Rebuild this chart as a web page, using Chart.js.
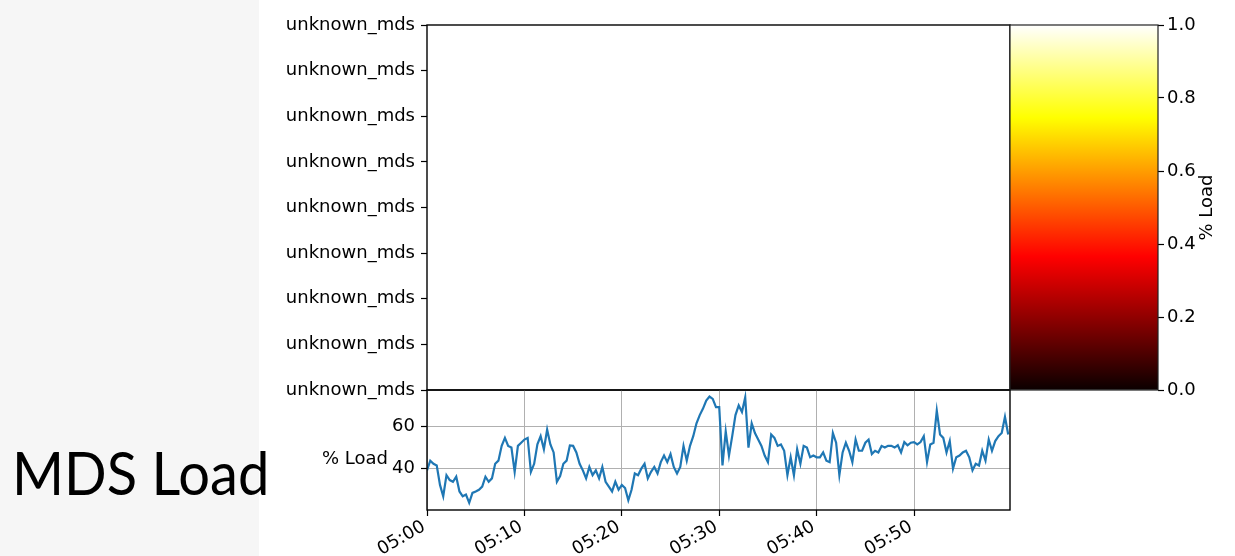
<!DOCTYPE html>
<html>
<head>
<meta charset="utf-8">
<title>MDS Load</title>
<script src="https://cdn.jsdelivr.net/npm/chart.js@4.4.0/dist/chart.umd.min.js"></script>
<style>
  html, body { margin: 0; padding: 0; background: #fff; }
  #page { position: relative; width: 1235px; height: 556px; overflow: hidden; background: #fff; }
  #side { position: absolute; left: 0; top: 0; width: 259px; height: 556px; background: #f6f6f6; }
  #title { position: absolute; left: 12px; top: 442px; font-family: Lato, "Open Sans", sans-serif;
           font-size: 60px; line-height: 1; color: #000; white-space: nowrap;
           transform: scaleX(0.935); transform-origin: 0 0; }
  canvas { position: absolute; }
</style>
</head>
<body>
<div id="page">
  <div id="side"></div>
  <div id="title">MDS Load</div>
  <canvas id="heat" width="771" height="430" style="left:259px;top:0px"></canvas>
  <canvas id="line" width="771" height="196" style="left:259px;top:360px"></canvas>
  <canvas id="cbar" width="235" height="430" style="left:1000px;top:0px"></canvas>
</div>
<script>
// ---- data ----
const mdsNames = ['unknown_mds', 'unknown_mds', 'unknown_mds', 'unknown_mds', 'unknown_mds',
                  'unknown_mds', 'unknown_mds', 'unknown_mds', 'unknown_mds'];

// % load, one sample every 20 s starting at 05:00:00
const sampleSeconds = 20;
const loadValues = [
  39.2, 43.8, 42.3, 41.5, 32.3, 26.9, 36.9, 34.6, 33.8, 36.2,
  29.2, 26.9, 27.7, 23.8, 28.5, 29.2, 30.0, 31.5, 36.2, 33.8,
  35.4, 42.3, 43.8, 50.8, 54.6, 50.8, 50.0, 38.5, 50.8, 52.3,
  53.8, 54.6, 38.5, 42.3, 51.5, 55.4, 49.2, 58.5, 51.5, 47.7,
  33.8, 36.5, 42.3, 43.8, 51.0, 50.8, 47.7, 42.3, 39.2, 35.4,
  40.8, 36.9, 39.2, 35.4, 40.8, 33.8, 31.5, 29.2, 33.8, 30.0,
  32.3, 30.8, 25.0, 30.0, 37.7, 36.9, 40.0, 42.3, 35.4, 38.5,
  40.8, 37.7, 43.1, 46.2, 43.1, 46.9, 40.8, 37.7, 40.8, 50.8,
  43.8, 50.8, 55.4, 61.5, 65.4, 68.5, 72.3, 74.2, 73.1, 69.2,
  69.2, 41.5, 57.7, 46.2, 55.4, 65.4, 70.0, 66.9, 73.8, 50.0,
  61.5, 56.9, 53.8, 50.8, 46.2, 43.1, 56.2, 54.6, 50.8, 51.5,
  48.5, 36.9, 45.4, 36.9, 49.2, 42.3, 50.8, 50.0, 45.4, 46.2,
  45.4, 45.4, 47.7, 43.8, 43.1, 56.9, 52.3, 36.9, 47.7, 52.3,
  48.5, 43.1, 53.8, 48.5, 48.5, 52.3, 53.8, 46.9, 48.5, 47.7,
  50.8, 50.0, 50.8, 50.8, 50.0, 51.1, 47.7, 52.6, 51.1, 52.3,
  52.6, 51.5, 52.6, 55.4, 43.1, 51.5, 52.3, 67.5, 56.2, 54.6,
  47.7, 53.1, 40.0, 45.4, 46.2, 47.7, 48.5, 45.4, 39.2, 42.3,
  41.5, 48.5, 43.8, 53.8, 48.5, 53.1, 55.4, 56.9, 64.6, 56.2
];

const timeTickMinutes = [0, 10, 20, 30, 40, 50];
const timeTickLabels = ['05:00', '05:10', '05:20', '05:30', '05:40', '05:50'];
const loadTicks = [40, 60];
const colorbarTicks = [0, 0.2, 0.4, 0.6, 0.8, 1.0];
const loadLabel = '% Load';

// "hot" colour map stops
const hotPositions = [0, 0.365079, 0.746032, 1];
const hotColors = ['rgb(11,0,0)', 'rgb(255,0,0)', 'rgb(255,255,0)', 'rgb(255,255,255)'];

// ---- shared style ----
const FONT = { family: '"DejaVu Sans", sans-serif', size: 18 };
const TEXT = '#000';
Chart.defaults.font.family = FONT.family;
Chart.defaults.font.size = FONT.size;
Chart.defaults.color = TEXT;

const framePlugin = {
  id: 'frame',
  afterDraw(chart, args, opts) {
    const { ctx, chartArea: a } = chart;
    ctx.save();
    ctx.strokeStyle = opts.color || '#000';
    ctx.lineWidth = opts.width || 1.4;
    ctx.strokeRect(a.left, a.top, a.right - a.left, a.bottom - a.top);
    ctx.restore();
  }
};

const textPlugin = {
  id: 'freeText',
  afterDraw(chart, args, opts) {
    if (!opts.items) return;
    const ctx = chart.ctx;
    opts.items.forEach(it => {
      ctx.save();
      ctx.font = `${FONT.size}px ${FONT.family}`;
      ctx.fillStyle = TEXT;
      ctx.translate(it.x(chart), it.y(chart));
      ctx.rotate(it.rotation || 0);
      ctx.textAlign = it.align || 'center';
      ctx.textBaseline = 'middle';
      ctx.fillText(it.text, 0, 0);
      ctx.restore();
    });
  }
};

const common = {
  responsive: false,
  animation: false,
  events: [],
};

// ---- empty MDS grid (top panel) ----
new Chart(document.getElementById('heat'), {
  type: 'line',
  data: { datasets: [] },
  options: {
    ...common,
    layout: { padding: { top: 25, right: 20, bottom: 40, left: 0 } },
    plugins: { legend: { display: false }, tooltip: { enabled: false }, frame: { width: 1.4 } },
    scales: {
      x: { type: 'linear', display: false, min: 0, max: 59.85 },
      y: {
        type: 'category', labels: mdsNames, offset: false,
        grid: { drawOnChartArea: false, drawTicks: true, tickLength: 6, tickColor: '#000', tickWidth: 1.2 },
        border: { display: false },
        ticks: { padding: 6, autoSkip: false },
        afterFit: s => { s.width = 168; }
      }
    }
  },
  plugins: [framePlugin]
});

// ---- load time series (bottom panel) ----
const loadPoints = loadValues.map((v, i) => ({ x: i * sampleSeconds / 60, y: v }));

new Chart(document.getElementById('line'), {
  type: 'line',
  data: {
    datasets: [{
      data: loadPoints,
      borderColor: '#1f77b4',
      borderWidth: 2.2,
      pointRadius: 0,
      tension: 0,
      fill: false
    }]
  },
  options: {
    ...common,
    layout: { padding: { top: 30, right: 20, bottom: 0, left: 0 } },
    plugins: {
      legend: { display: false }, tooltip: { enabled: false },
      frame: { width: 1.4 },
      freeText: { items: [
        { text: loadLabel, align: 'right', x: c => c.chartArea.left - 39, y: c => c.scales.y.getPixelForValue(44.5) }
      ] }
    },
    scales: {
      x: {
        type: 'linear', min: 0, max: 59.85,
        afterBuildTicks: s => { s.ticks = timeTickMinutes.map(v => ({ value: v })); },
        ticks: {
          autoSkip: false, minRotation: 30, maxRotation: 30, padding: 0, labelOffset: -3,
          callback: v => timeTickLabels[timeTickMinutes.indexOf(v)]
        },
        grid: { color: '#b0b0b0', lineWidth: 1, tickLength: 6, tickColor: '#000', tickWidth: 1.2 },
        border: { display: false },
        afterFit: s => { s.height = 46; }
      },
      y: {
        type: 'linear', min: 20.4, max: 77.3,
        afterBuildTicks: s => { s.ticks = loadTicks.map(v => ({ value: v })); },
        ticks: { padding: 6 },
        grid: { color: '#b0b0b0', lineWidth: 1, tickLength: 6, tickColor: '#000', tickWidth: 1.2 },
        border: { display: false },
        afterFit: s => { s.width = 168; }
      }
    }
  },
  plugins: [framePlugin, textPlugin]
});

// ---- colour bar ----
function hotGradient(c) {
  const chart = c.chart;
  const y = chart.scales && chart.scales.y;
  if (!chart.chartArea || !y) return 'rgb(255,0,0)';
  const g = chart.ctx.createLinearGradient(0, y.getPixelForValue(0), 0, y.getPixelForValue(1));
  hotPositions.forEach((p, i) => g.addColorStop(p, hotColors[i]));
  return g;
}

new Chart(document.getElementById('cbar'), {
  type: 'bar',
  data: {
    labels: [''],
    datasets: [{
      data: [[0, 1]],
      backgroundColor: hotGradient,
      borderWidth: 0,
      barPercentage: 1,
      categoryPercentage: 1
    }]
  },
  options: {
    ...common,
    layout: { padding: { top: 25, right: 0, bottom: 40, left: 10 } },
    plugins: {
      legend: { display: false }, tooltip: { enabled: false },
      frame: { width: 1.2, color: '#222' },
      freeText: { items: [
        { text: loadLabel, rotation: -Math.PI / 2, x: c => c.chartArea.right + 49, y: c => (c.chartArea.top + c.chartArea.bottom) / 2 }
      ] }
    },
    scales: {
      x: { display: false },
      y: {
        position: 'right', min: 0, max: 1,
        afterBuildTicks: s => { s.ticks = colorbarTicks.map(v => ({ value: v })); },
        ticks: { padding: 3, callback: v => v.toFixed(1) },
        grid: { drawOnChartArea: false, tickLength: 6, tickColor: '#000', tickWidth: 1.2 },
        border: { display: false },
        afterFit: s => { s.width = 77; }
      }
    }
  },
  plugins: [framePlugin, textPlugin]
});
</script>
</body>
</html>
